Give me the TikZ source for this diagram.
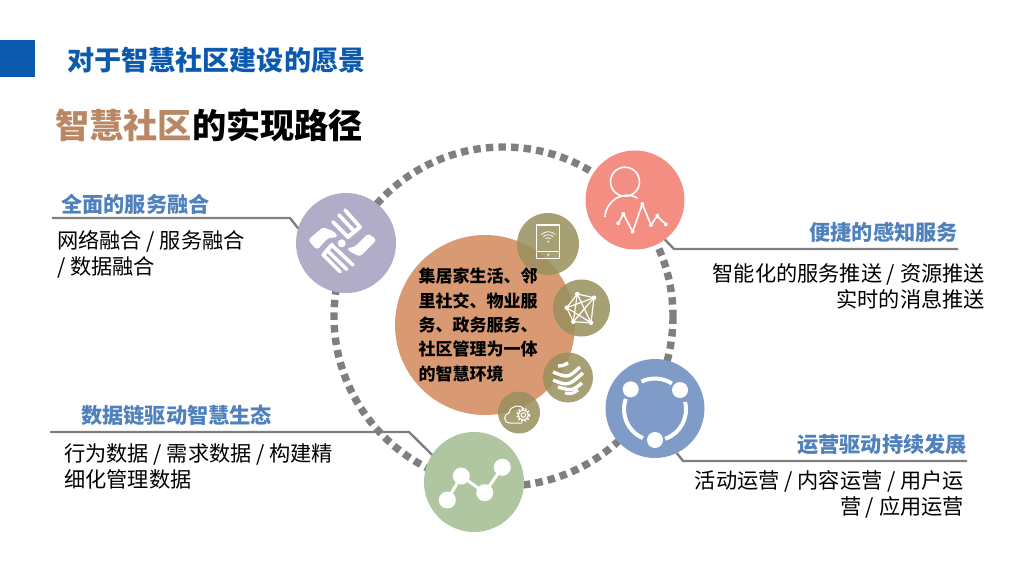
\documentclass[tikz,border=0pt]{standalone}
\usepackage{fontspec}
\setmainfont{Noto Sans CJK SC}
\definecolor{titleblue}{HTML}{0B5AAE}
\definecolor{headblue}{HTML}{4F81BD}
\definecolor{titlebrown}{HTML}{B98763}
\definecolor{ringgrey}{HTML}{7F7F7F}
\definecolor{lavender}{HTML}{B1ACC8}
\definecolor{salmon}{HTML}{F48D82}
\definecolor{steelblue}{HTML}{7F9BC8}
\definecolor{sage}{HTML}{B0C6A0}
\definecolor{coreorange}{HTML}{D99A73}
\definecolor{olive}{HTML}{998F5D}
\tikzset{
  bigdot/.style={circle, minimum size=99pt, inner sep=0pt, outer sep=0pt},
  smalldot/.style={circle, fill=olive, fill opacity=0.85, inner sep=0pt, outer sep=0pt},
  headlabel/.style={font=\fontsize{21.2}{26}\selectfont\bfseries, text=headblue, inner sep=0pt},
  bodyleft/.style={font=\fontsize{21.2}{26}\selectfont, anchor=west, align=left, inner sep=0pt},
  bodyright/.style={font=\fontsize{21.2}{26}\selectfont, anchor=east, align=right, inner sep=0pt},
  leader/.style={draw=ringgrey, line width=2.4pt},
  iconline/.style={draw=white, line width=1.2pt, line cap=round, line join=round},
}
\begin{document}
\begin{tikzpicture}[x=1pt, y=-1pt]
  \useasboundingbox (0,0) rectangle (1024,576);

  % Titulos
  \fill[titleblue] (0,40) rectangle (35,77);
  \node[font=\fontsize{27.1}{32}\selectfont\bfseries, text=titleblue, anchor=west, inner sep=0pt] (pagetitle) at (67,60) {对于智慧社区建设的愿景};
  \node[font=\fontsize{34.2}{40}\selectfont\bfseries, anchor=west, inner sep=0pt] (subtitle) at (55,125) {\textcolor{titlebrown}{智慧社区}的实现路径};

  % Anillo
  \draw[ringgrey, line width=7.4pt, dash pattern=on 7.4pt off 5.2pt] (503.5,316.5) circle[radius=169.5];

  % Circulo central y satelites
  \node[circle, fill=coreorange, minimum size=180pt, inner sep=0pt] (core) at (485,325) {};
  \node[smalldot, minimum size=62pt] (tabletdot) at (548,244) {};
  \node[smalldot, minimum size=57pt] (netdot) at (581.5,308) {};
  \node[smalldot, minimum size=50pt] (globedot) at (568,377.5) {};
  \node[smalldot, minimum size=42pt] (clouddot) at (519,412.5) {};
  \node[font=\fontsize{17}{24.3}\selectfont\bfseries, anchor=west, align=left, inner sep=0pt] (coretext) at (418.5,325) {集居家生活、邻\\里社交、物业服\\务、政务服务、\\社区管理为一体\\的智慧环境};

  % Circulos grandes
  \node[bigdot, fill=lavender, minimum size=100pt] (fusion) at (346,243) {};
  \node[bigdot, fill=salmon] (sensing) at (635,200) {};
  \node[bigdot, fill=steelblue] (operate) at (655,408.5) {};
  \node[bigdot, fill=sage, minimum size=100pt] (datachain) at (474,482) {};

  % Lineas guia
  \coordinate (fusionA) at (52,218);
  \coordinate (fusionB) at (290,218);
  \coordinate (sensingA) at (958,249);
  \coordinate (sensingB) at (674,249);
  \coordinate (chainA) at (50,432);
  \coordinate (chainB) at (409,432);
  \coordinate (operateA) at (967,461);
  \coordinate (operateB) at (683,461);
  \draw[leader] (fusionA) -- (fusionB) -- (fusion.163);
  \draw[leader] (sensingA) -- (sensingB) -- (sensing.-53);
  \draw[leader] (chainA) -- (chainB) -- (datachain.147);
  \draw[leader] (operateA) -- (operateB) -- (operate.-64);

  % Textos
  \node[headlabel, anchor=west] (fusionhead) at (61,204) {全面的服务融合};
  \node[bodyleft] (fusionbody) at (57,254) {网络融合 / 服务融合\\/ 数据融合};
  \node[headlabel, anchor=east] (sensinghead) at (958,232) {便捷的感知服务};
  \node[bodyright] (sensingbody) at (985,286) {智能化的服务推送 / 资源推送\\实时的消息推送};
  \node[headlabel, anchor=west] (chainhead) at (81,415) {数据链驱动智慧生态};
  \node[bodyleft] (chainbody) at (64,466) {行为数据 / 需求数据 / 构建精\\细化管理数据};
  \node[headlabel, anchor=east] (operatehead) at (967,444) {运营驱动持续发展};
  \node[bodyright] (operatebody) at (964,494) {活动运营 / 内容运营 / 用户运\\营 / 应用运营};

  % Icono manos
  \fill[white, rounded corners=3pt] (308,240) -- (323,227) -- (335,232) -- (338,237) -- (328,238) -- (317,250) -- cycle;
  \fill[white, rounded corners=3pt] (376.7,240) -- (360,256.7) -- (350,251.7) -- (346.7,248.3) -- (355,246.7) -- (368.3,233.3) -- cycle;
  \foreach \ax/\ay/\bx/\by in {345/210/360/227, 339/215/355/232, 333/222/348/237, 331.7/245/353/265, 326.7/250/346.7/269.3, 323.3/255/340/271.7}
    \draw[white, line width=3.6pt, line cap=round] (\ax,\ay) -- (\bx,\by);
  \draw[white, line width=4pt, line cap=round] (360,227) -- (348,237);
  \draw[white, line width=4pt, line cap=round] (331.7,245) -- (323.3,255);
  \fill[white] (341.7,243.3) circle[radius=4];

  % Icono persona
  \draw[iconline, line width=1.6pt] (625,181.7) circle[radius=14.5];
  \draw[iconline, line width=1.6pt] (605,216.7) .. controls (606,200) and (624,190) .. (637,198);
  \draw[iconline, line width=1.6pt] (618.3,223.3) -- (623.3,214) -- (632.7,231.7) -- (642.3,204) -- (651,225) -- (657.3,216) -- (665.7,224.3);
  \foreach \px/\py in {618.3/223.3, 623.3/214, 632.7/231.7, 642.3/204, 651/225, 657.3/216, 665.7/224.3}
    \fill[white] (\px,\py) circle[radius=2];

  % Icono ciclo
  \draw[white, line width=4pt] (655,409.5) ++(-116:31) arc[start angle=-116, end angle=-57, radius=31];
  \draw[white, line width=4pt] (655,409.5) ++(-160:31) arc[start angle=-160, end angle=-247, radius=31];
  \draw[white, line width=4pt] (655,409.5) ++(71:31) arc[start angle=71, end angle=-14, radius=31];
  \foreach \px/\py in {630.7/389.3, 680/390, 655/440}
    \fill[white] (\px,\py) circle[radius=8];

  % Icono grafica
  \draw[white, line width=3pt] (447.3,500) -- (461.3,476) -- (484.7,492.7) -- (502.3,467.3);
  \foreach \px/\py in {447.3/500, 461.3/476, 484.7/492.7, 502.3/467.3}
    \fill[white] (\px,\py) circle[radius=8.5];

  % Icono tableta
  \draw[iconline] (536.7,225) rectangle (559.3,258.3);
  \draw[iconline] (536.7,251.7) -- (559.3,251.7);
  \fill[white] (548.3,254.8) circle[radius=1.1];
  \fill[white] (548.3,241.7) circle[radius=0.9];
  \foreach \wifi in {4,7,10}
    \draw[white, line width=0.7pt] (548.3,241.7) ++(-135:\wifi) arc[start angle=-135, end angle=-45, radius=\wifi];

  % Icono red
  \foreach \ax/\ay/\bx/\by in {577.3/294/594/297.7, 577.3/294/566.7/307.7, 577.3/294/573.3/321.7, 577.3/294/591/322.7, 594/297.7/566.7/307.7, 594/297.7/573.3/321.7, 594/297.7/591/322.7, 566.7/307.7/573.3/321.7, 566.7/307.7/591/322.7, 573.3/321.7/591/322.7}
    \draw[iconline] (\ax,\ay) -- (\bx,\by);
  \foreach \px/\py in {577.3/294, 594/297.7, 566.7/307.7, 573.3/321.7, 591/322.7}
    \fill[white] (\px,\py) circle[radius=2.3];

  % Icono globo
  \draw[white, line width=3.4pt] (558,366) .. controls (562,366) .. (568,363);
  \draw[white, line width=3.4pt] (553,372) .. controls (568,378) .. (580,367);
  \draw[white, line width=3.4pt] (553,380) .. controls (568,386) .. (583,373);
  \draw[white, line width=3.4pt] (558,387) .. controls (572,391) .. (582,383);
  \draw[white, line width=3pt] (565,393) .. controls (572,394) .. (578,390);

  % Icono nube
  \draw[iconline, line width=1pt] (522,423) -- (510,423) .. controls (503,423) and (503,414) .. (509,413) .. controls (510,405) and (521,404) .. (524,409);
  \draw[white, line width=1pt] (523.3,415) circle[radius=2.3];
  \draw[white, line width=1pt] (523.3,415) circle[radius=5];
  \draw[white, line width=2pt, dash pattern=on 1.6pt off 1.7pt] (523.3,415) circle[radius=6];
\end{tikzpicture}
\end{document}
